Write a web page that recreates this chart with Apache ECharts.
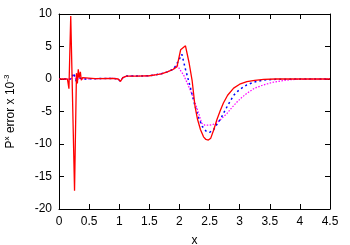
<!DOCTYPE html>
<html>
<head>
<meta charset="utf-8">
<script src="https://cdn.jsdelivr.net/npm/echarts@6/dist/echarts.min.js"></script>
<style>html,body{margin:0;padding:0;background:#fff}#c{width:350px;height:245px}</style>
</head>
<body>
<div id="c"></div>
<script>
var xTicks = [0, 0.5, 1, 1.5, 2, 2.5, 3, 3.5, 4, 4.5];
var yTicks = [-20, -15, -10, -5, 0, 5, 10];

var redX = [0, 0.14, 0.165, 0.195, 0.258, 0.29, 0.305, 0.32, 0.335, 0.355, 0.37, 0.39, 0.42, 0.6, 0.9, 0.98, 1.02, 1.06, 1.12, 1.3, 1.5, 1.6, 1.7, 1.8, 1.9, 1.96, 2.02, 2.1, 2.16, 2.21, 2.26, 2.3, 2.35, 2.4, 2.44, 2.48, 2.52, 2.57, 2.62, 2.68, 2.73, 2.8, 2.9, 3.0, 3.12, 3.25, 3.4, 3.6, 4.0, 4.5];
var redY = [0, 0, -1.5, 9.7, -17.2, 0.9, -0.7, 1.5, 0.2, 1.1, -0.2, 0.2, 0, 0.05, 0.1, 0.0, -0.35, 0.2, 0.45, 0.45, 0.5, 0.65, 0.8, 1.1, 1.5, 1.9, 4.5, 5.1, 2.5, -0.2, -4.3, -6.2, -7.8, -8.9, -9.3, -9.4, -9.1, -7.8, -6.3, -4.8, -3.7, -2.5, -1.4, -0.8, -0.4, -0.2, -0.05, 0, 0, 0];

var blueX = [0, 0.2, 0.245, 0.27, 0.29, 0.32, 0.36, 0.4, 0.6, 0.9, 0.98, 1.02, 1.06, 1.12, 1.3, 1.5, 1.6, 1.7, 1.8, 1.9, 1.96, 2.04, 2.1, 2.15, 2.2, 2.26, 2.32, 2.38, 2.44, 2.5, 2.56, 2.62, 2.68, 2.73, 2.8, 2.9, 3.0, 3.12, 3.25, 3.4, 3.6, 4.0, 4.5];
var blueY = [0, 0, 0.9, 0.2, -0.5, 0.3, 0.1, 0, 0.05, 0.1, 0.0, -0.35, 0.2, 0.45, 0.45, 0.5, 0.65, 0.8, 1.1, 1.5, 2.4, 3.8, 1.5, -0.2, -2.0, -4.2, -6.0, -7.3, -8.0, -8.2, -7.9, -7.0, -6.2, -5.3, -4.1, -2.5, -1.6, -0.9, -0.45, -0.15, -0.05, 0, 0];

var magX = [0, 0.2, 0.245, 0.27, 0.29, 0.32, 0.36, 0.4, 0.6, 0.9, 0.98, 1.02, 1.06, 1.12, 1.3, 1.5, 1.6, 1.7, 1.8, 1.9, 1.96, 2.01, 2.07, 2.18, 2.25, 2.32, 2.37, 2.42, 2.5, 2.6, 2.7, 2.79, 2.87, 2.96, 3.04, 3.12, 3.25, 3.4, 3.55, 3.68, 3.85, 4.0, 4.5];
var magY = [0, 0, 0.7, 0.2, -0.4, 0.2, 0.1, 0, 0.05, 0.1, 0.0, -0.35, 0.2, 0.45, 0.45, 0.5, 0.65, 0.8, 1.1, 1.5, 2.2, 1.4, 0.6, -1.7, -3.4, -5.3, -6.8, -7.1, -7.1, -6.9, -6.1, -5.3, -4.4, -3.5, -2.8, -2.2, -1.4, -0.9, -0.5, -0.3, -0.1, -0.05, 0];

function pairs(xs, ys) { return xs.map(function (x, i) { return [x, ys[i]]; }); }

var font = 'Liberation Sans, Arial, sans-serif';
var lbl = { color: '#000', fontFamily: font, fontSize: 12 };

var chart = echarts.init(document.getElementById('c'), null, { renderer: 'canvas' });
var axX = function (pos, showLabel) {
  return {
    type: 'value', position: pos, min: 0, max: 4.5, interval: 0.5,
    axisLine: { show: true, onZero: false, lineStyle: { color: '#000', width: 1 } },
    axisTick: { show: true, inside: true, length: 5, lineStyle: { color: '#000' } },
    axisLabel: showLabel ? Object.assign({ margin: 7, formatter: function (v) { return String(v); } }, lbl) : { show: false },
    splitLine: { show: false }
  };
};
var axY = function (pos, showLabel) {
  return {
    type: 'value', position: pos, min: -20, max: 10, interval: 5,
    axisLine: { show: true, onZero: false, lineStyle: { color: '#000', width: 1 } },
    axisTick: { show: true, inside: true, length: 5, lineStyle: { color: '#000' } },
    axisLabel: showLabel ? Object.assign({ margin: 7 }, lbl) : { show: false },
    splitLine: { show: false }
  };
};
var x0 = axX('bottom', true);
x0.name = 'x'; x0.nameLocation = 'middle'; x0.nameGap = 26;
x0.nameTextStyle = { color: '#000', fontFamily: font, fontSize: 12 };
var y0 = axY('left', true);
y0.name = 'P{s|x} error x 10{s|-3}'; y0.nameLocation = 'middle'; y0.nameGap = 40;
y0.nameTextStyle = { color: '#000', fontFamily: font, fontSize: 12, rich: { s: { fontSize: 8, verticalAlign: 'top', padding: [0, 0, 8, 0], color: '#000', fontFamily: font } } };

chart.setOption({
  animation: false,
  grid: { left: 59, right: 20, top: 14, bottom: 36, containLabel: false, outerBoundsMode: 'none' },
  xAxis: [x0, axX('top', false)],
  yAxis: [y0, axY('right', false)],
  series: [
    { type: 'line', data: pairs(magX, magY), showSymbol: false, symbol: 'none', lineStyle: { color: '#ff00ff', width: 1.2, type: [1.5, 1.5] }, z: 2 },
    { type: 'line', data: pairs(blueX, blueY), showSymbol: false, symbol: 'none', lineStyle: { color: '#0000ff', width: 1.5, type: [2, 3] }, z: 3 },
    { type: 'line', data: pairs(redX, redY), showSymbol: false, symbol: 'none', lineStyle: { color: '#ff0000', width: 1.3 }, z: 4 }
  ]
});
</script>
</body>
</html>
